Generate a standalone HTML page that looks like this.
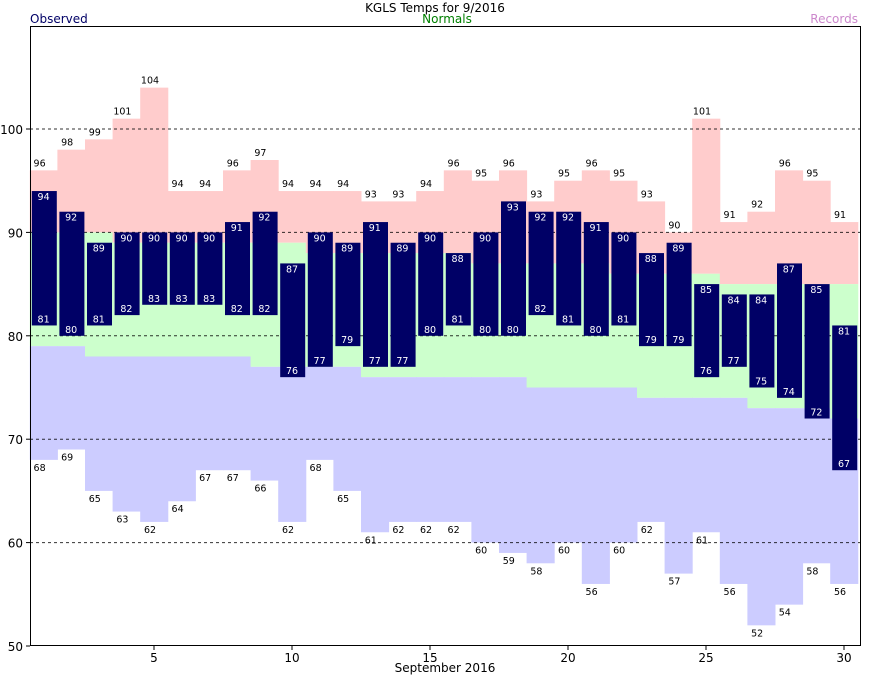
<!DOCTYPE html>
<html><head><meta charset="utf-8"><style>
body{margin:0;background:#fff;}
svg text{font-family:"DejaVu Sans","Liberation Sans",sans-serif;}
</style></head><body>
<svg id="s" width="870" height="676" xmlns="http://www.w3.org/2000/svg"></svg>
<script>
const RH=[96,98,99,101,104,94,94,96,97,94,94,94,93,93,94,96,95,96,93,95,96,95,93,90,101,91,92,96,95,91];
const RL=[68,69,65,63,62,64,67,67,66,62,68,65,61,62,62,62,60,59,58,60,56,60,62,57,61,56,52,54,58,56];
const OH=[94,92,89,90,90,90,90,91,92,87,90,89,91,89,90,88,90,93,92,92,91,90,88,89,85,84,84,87,85,81];
const OL=[81,80,81,82,83,83,83,82,82,76,77,79,77,77,80,81,80,80,82,81,80,81,79,79,76,77,75,74,72,67];
const NL=[79,79,78,78,78,78,78,78,77,77,77,77,76,76,76,76,76,76,75,75,75,75,74,74,74,74,73,73,73,72];
const NH=[90,90,90,89,89,89,89,89,89,89,88,88,88,88,88,88,87,87,87,87,87,86,86,86,86,85,85,85,85,85];
const Y=v=>646-(v-50)*10.34, X=d=>154+(d-5)*27.6;
let h='';
for(let i=0;i<30;i++){const d=i+1,x0=X(d)-13.8,w=27.6;
 h+=`<rect x="${x0}" y="${Y(RH[i])}" width="${w+0.5}" height="${Y(NH[i])-Y(RH[i])}" fill="#ffcccc"/>`;
 h+=`<rect x="${x0}" y="${Y(NH[i])}" width="${w+0.5}" height="${Y(NL[i])-Y(NH[i])}" fill="#ccffcc"/>`;
 h+=`<rect x="${x0}" y="${Y(NL[i])}" width="${w+0.5}" height="${Y(RL[i])-Y(NL[i])}" fill="#ccccff"/>`;}
for(let v=60;v<=100;v+=10)h+=`<line x1="30" x2="861" y1="${Y(v)}" y2="${Y(v)}" stroke="#000" stroke-width="1" stroke-dasharray="3,3" opacity="0.8"/>`;
for(let i=0;i<30;i++){const d=i+1,xc=X(d);
 h+=`<rect x="${xc-11.8}" y="${Y(OH[i])}" width="25" height="${Y(OL[i])-Y(OH[i])}" fill="#000066"/>`;
 h+=`<text x="${xc}" y="${Y(OH[i])+9}" font-size="9.5" fill="#fff" text-anchor="middle">${OH[i]}</text>`;
 h+=`<text x="${xc}" y="${Y(OL[i])-3}" font-size="9.5" fill="#fff" text-anchor="middle">${OL[i]}</text>`;
 h+=`<text x="${xc-4}" y="${Y(RH[i])-4}" font-size="9.5" fill="#000" text-anchor="middle">${RH[i]}</text>`;
 h+=`<text x="${xc-4}" y="${Y(RL[i])+11}" font-size="9.5" fill="#000" text-anchor="middle">${RL[i]}</text>`;}
h+='<rect x="30.5" y="26.5" width="830" height="619" fill="none" stroke="#000"/>';
for(let v=50;v<=100;v+=10){h+=`<line x1="26" x2="30" y1="${Y(v)}" y2="${Y(v)}" stroke="#000"/><text x="23" y="${Y(v)+5}" font-size="12" text-anchor="end">${v}</text>`;}
for(let d=5;d<=30;d+=5){h+=`<line x1="${X(d)}" x2="${X(d)}" y1="646" y2="650" stroke="#000"/><text x="${X(d)}" y="662" font-size="12" text-anchor="middle">${d}</text>`;}
h+='<text x="435" y="12" font-size="12" text-anchor="middle">KGLS Temps for 9/2016</text>';
h+='<text x="30" y="23" font-size="12" fill="#000066">Observed</text>';
h+='<text x="447" y="23" font-size="12" fill="#008000" text-anchor="middle">Normals</text>';
h+='<text x="858" y="23" font-size="12" fill="#cc88cc" text-anchor="end">Records</text>';
h+='<text x="445" y="672" font-size="12" text-anchor="middle">September 2016</text>';
document.getElementById('s').innerHTML=h;
</script>
</body></html>
